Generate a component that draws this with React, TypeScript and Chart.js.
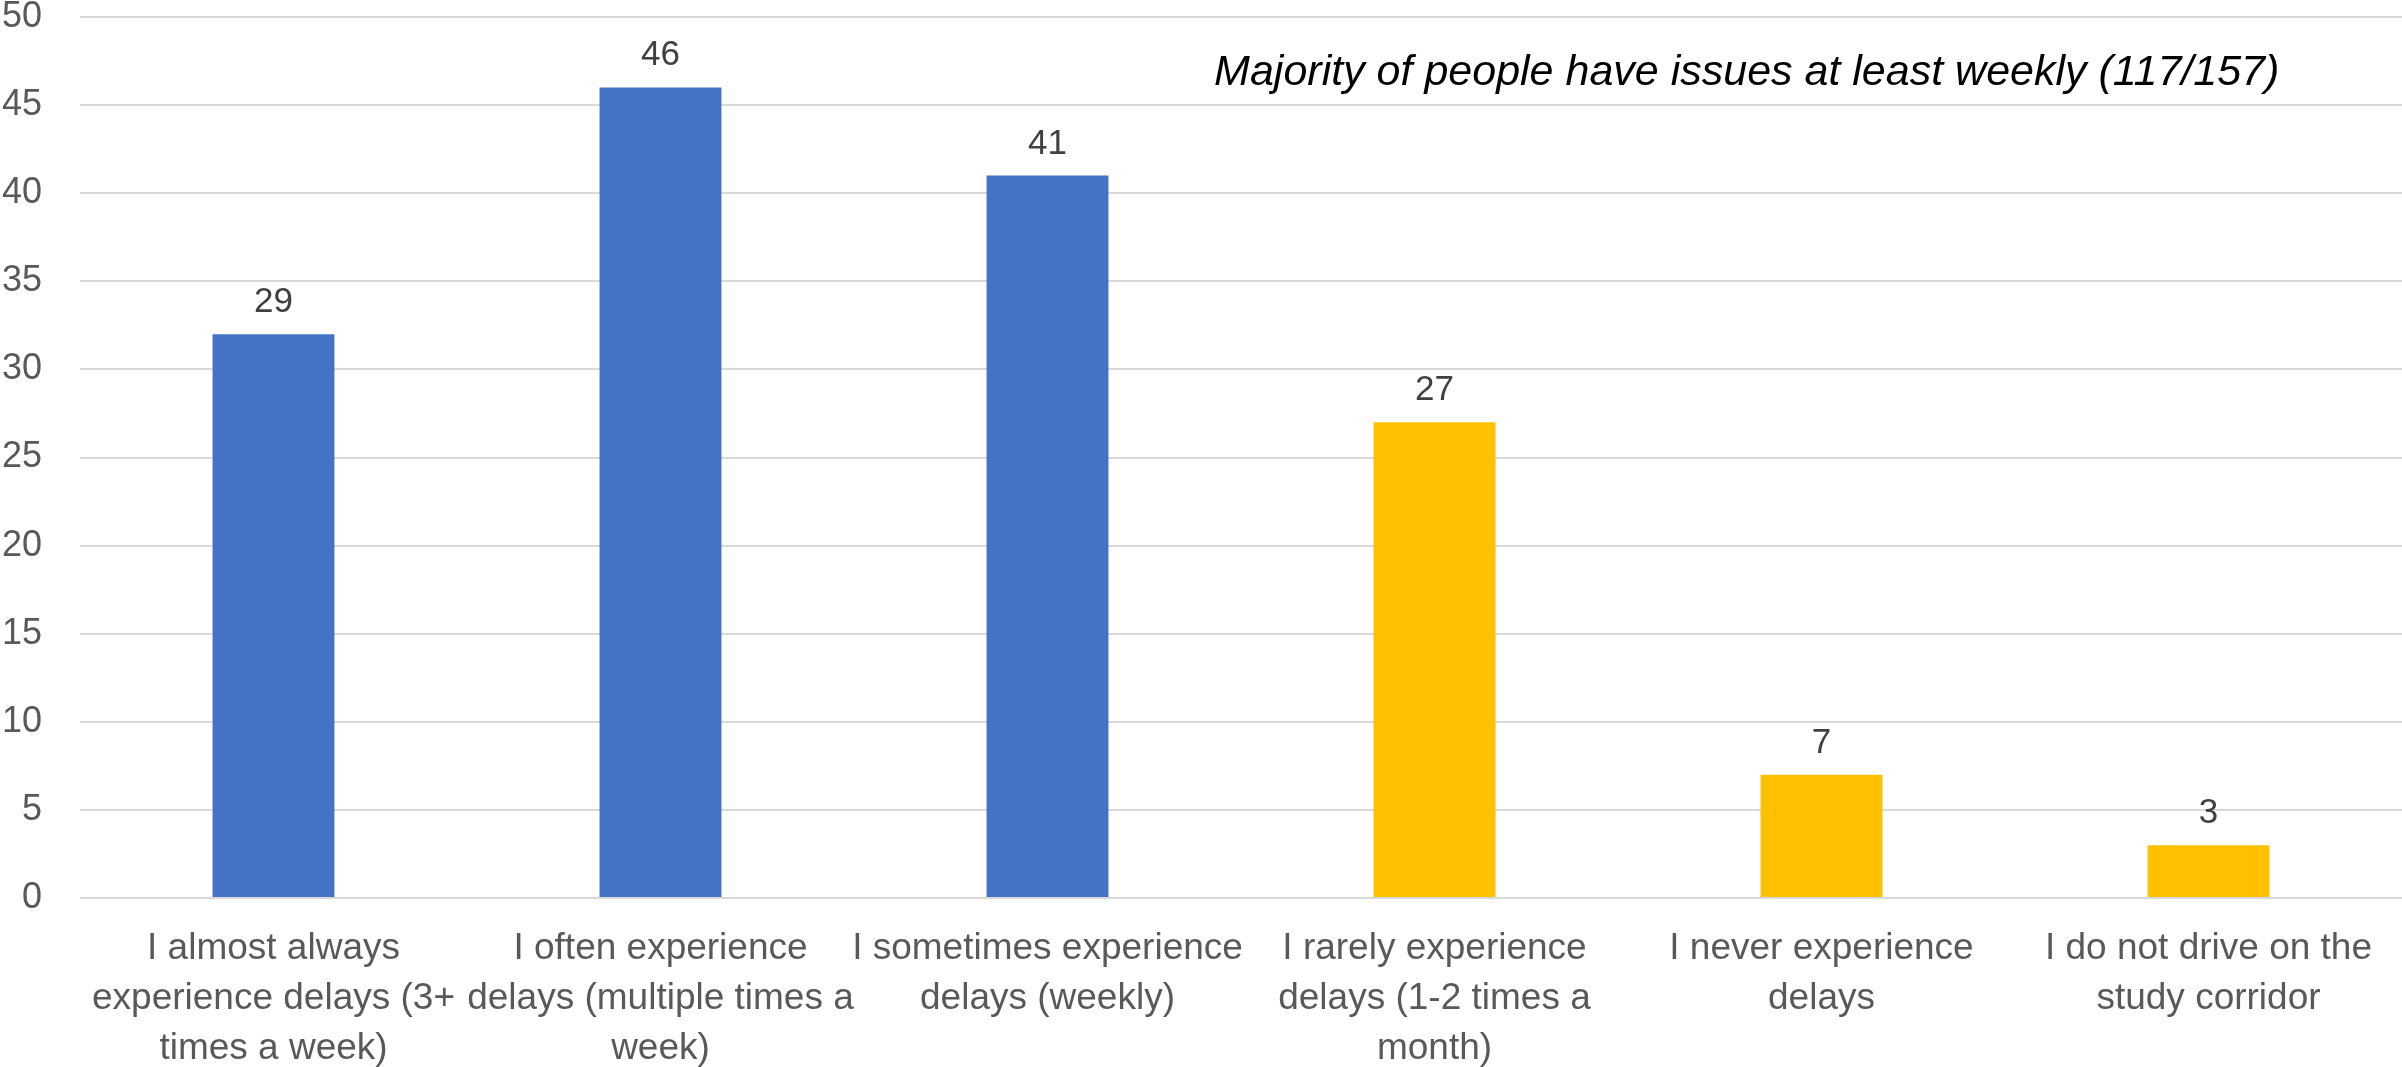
import React, { useEffect, useRef } from "react";
import { Chart, registerables } from "chart.js";

Chart.register(...registerables);

const categories: string[][] = [
  ["I almost always", "experience delays (3+", "times a week)"],
  ["I often experience", "delays (multiple times a", "week)"],
  ["I sometimes experience", "delays (weekly)"],
  ["I rarely experience", "delays (1-2 times a", "month)"],
  ["I never experience", "delays"],
  ["I do not drive on the", "study corridor"],
];
const barValues: number[] = [32, 46, 41, 27, 7, 3];
const dataLabels: string[] = ["29", "46", "41", "27", "7", "3"];
const barColors: string[] = ["#4472C4", "#4472C4", "#4472C4", "#FFC000", "#FFC000", "#FFC000"];
const yTicks: number[] = [0, 5, 10, 15, 20, 25, 30, 35, 40, 45, 50];
const annotation = "Majority of people have issues at least weekly (117/157)";

const FONT = "'Liberation Sans', Arial, sans-serif";

const labelPlugin = {
  id: "valueLabels",
  afterDatasetsDraw(chart: any) {
    const ctx = chart.ctx;
    const meta = chart.getDatasetMeta(0);
    ctx.save();
    ctx.font = `35px ${FONT}`;
    ctx.fillStyle = "#404040";
    ctx.textAlign = "center";
    ctx.textBaseline = "alphabetic";
    meta.data.forEach((bar: any, i: number) => {
      ctx.fillText(dataLabels[i], bar.x, bar.y - 22);
    });
    ctx.restore();
  },
};

const annotationPlugin = {
  id: "annotationText",
  afterDraw(chart: any) {
    const ctx = chart.ctx;
    const area = chart.chartArea;
    ctx.save();
    ctx.font = `italic 43px ${FONT}`;
    ctx.fillStyle = "#000000";
    ctx.textAlign = "center";
    ctx.textBaseline = "alphabetic";
    const x = area.left + (area.right - area.left) * 0.7178;
    const y = area.top + 68;
    ctx.fillText(annotation, x, y);
    ctx.restore();
  },
};

export default function App() {
  const canvasRef = useRef<HTMLCanvasElement | null>(null);

  useEffect(() => {
    if (!canvasRef.current) return;
    const chart = new Chart(canvasRef.current, {
      type: "bar",
      data: {
        labels: categories as any,
        datasets: [
          {
            data: barValues,
            backgroundColor: barColors,
            borderWidth: 0,
            categoryPercentage: 1,
            barPercentage: 0.315,
          },
        ],
      },
      options: {
        animation: false,
        responsive: false,
        maintainAspectRatio: false,
        layout: { padding: { top: 17, right: 0, left: 0, bottom: 0 } },
        plugins: {
          legend: { display: false },
          tooltip: { enabled: false },
          title: { display: false },
        },
        scales: {
          x: {
            grid: { display: false, drawTicks: false },
            border: { display: false },
            ticks: {
              color: "#595959",
              font: { family: FONT, size: 37, lineHeight: 1.35 },
              padding: 26,
              maxRotation: 0,
              autoSkip: false,
            },
            afterFit: (scale: any) => {
              scale.height = 169;
            },
          },
          y: {
            min: 0,
            max: 50,
            afterBuildTicks: (scale: any) => {
              scale.ticks = yTicks.map((v) => ({ value: v }));
            },
            grid: { color: "#D9D9D9", lineWidth: 2, drawTicks: false },
            border: { display: false },
            ticks: {
              color: "#595959",
              font: { family: FONT, size: 36, lineHeight: 0.9 },
              padding: 38,
            },
            afterFit: (scale: any) => {
              scale.width = 80;
              scale.paddingTop = 0;
              scale.paddingBottom = 0;
            },
          },
        },
      },
      plugins: [labelPlugin, annotationPlugin],
    });
    return () => chart.destroy();
  }, []);

  return (
    <div style={{ position: "absolute", left: 0, top: 0, width: 2402, height: 1067, background: "#fff" }}>
      <canvas ref={canvasRef} width={2402} height={1067} style={{ display: "block" }} />
    </div>
  );
}
